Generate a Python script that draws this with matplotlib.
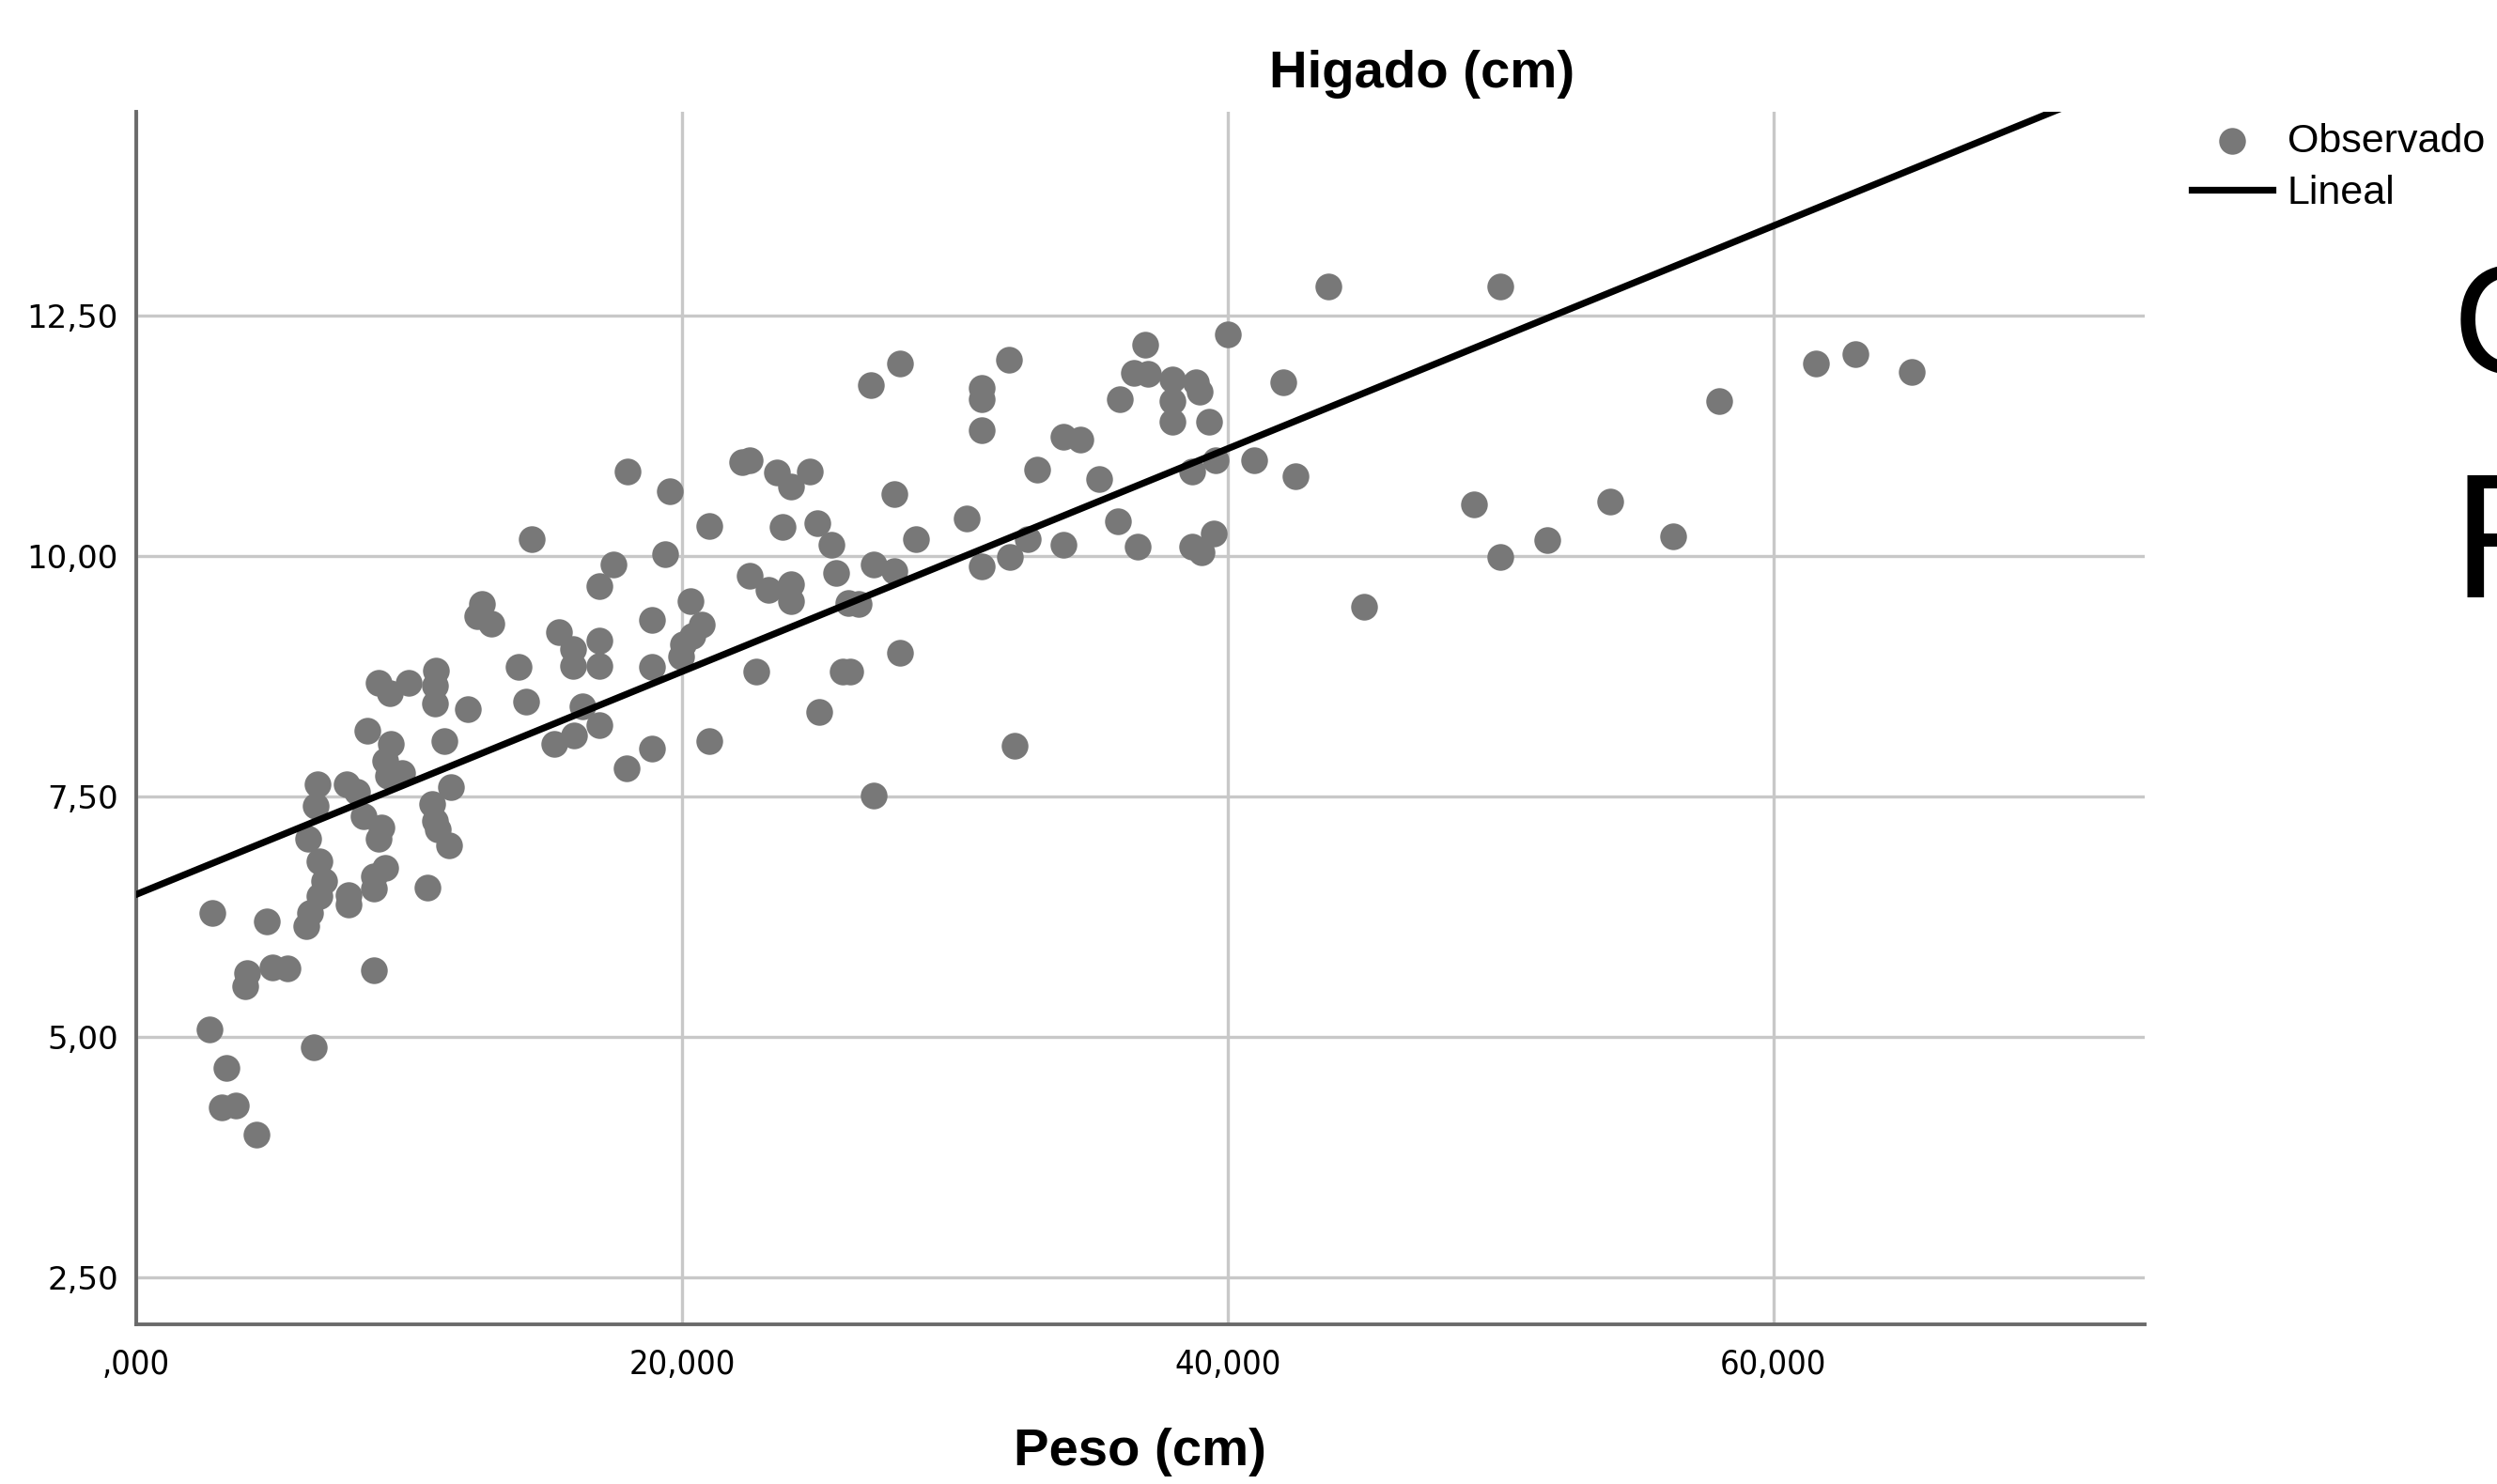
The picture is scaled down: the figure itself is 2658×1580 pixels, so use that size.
import matplotlib
matplotlib.use("Agg")
import matplotlib.pyplot as plt

peso = [
    2.81, 4.79, 6.25, 6.36, 6.71, 6.88, 6.71, 6.30, 6.59, 6.65,
    7.70, 8.10, 8.32, 9.00, 8.89, 9.12, 8.72, 8.72, 7.80, 7.80,
    10.67, 10.84, 10.95, 11.07, 11.53, 11.47, 4.01, 4.06, 4.98, 5.56,
    8.72, 2.69, 6.50, 3.30, 3.15, 3.67, 4.41,
    16.98, 12.68, 12.50, 13.02, 15.49, 16.01, 16.01, 16.98, 16.98,
    18.90, 18.90, 14.00, 14.29, 10.98, 8.89, 9.29, 9.98, 10.95, 10.95,
    12.16, 8.49, 9.35, 9.12, 11.30, 9.75, 9.23, 16.35, 16.06, 15.32,
    16.98, 17.96, 18.90,
    18.02, 19.57, 14.49, 19.39, 17.50, 21.00, 22.21, 22.49, 23.47, 23.99,
    24.68, 23.70, 24.97, 25.48, 25.66, 27.04, 22.49, 23.18, 23.99, 23.99,
    26.11, 26.46, 27.80, 20.31, 20.72, 20.37, 20.03, 19.97, 21.00, 22.72,
    25.89, 26.15, 25.02, 27.04,
    28.00, 31.97, 26.91, 30.99, 30.99, 30.99, 36.55, 37.08, 36.04, 33.98,
    34.60, 33.00, 35.30, 28.58, 30.42, 35.98, 33.98, 36.70, 32.66, 32.03,
    30.99, 27.78, 28.00, 32.20,
    43.68, 40.00, 36.96, 37.99, 38.85, 38.97, 37.99, 37.99, 39.31, 42.02,
    38.69, 39.55, 40.98, 42.47, 38.69, 39.04, 39.49, 45.00,
    50.00, 49.01, 50.00, 51.71, 54.02, 56.31, 58.02, 61.54, 63.01, 65.06,
]
higado = [
    6.29, 6.20, 6.15, 6.29, 6.46, 6.62, 6.83, 7.06, 7.40, 7.63,
    7.63, 7.55, 7.29, 7.18, 7.06, 6.76, 6.67, 6.54, 6.47, 6.38,
    6.55, 7.42, 7.25, 7.16, 7.60, 6.99, 5.53, 5.66, 5.72, 5.71,
    5.69, 5.08, 4.89, 4.68, 4.27, 4.29, 3.98,
    9.69, 9.50, 9.37, 9.30, 9.21, 9.03, 8.86, 9.12, 8.86,
    9.34, 8.85, 8.85, 8.49, 8.81, 8.68, 8.57, 8.68, 8.65, 8.47,
    8.41, 8.18, 8.05, 7.87, 8.08, 7.74, 7.71, 8.44, 8.13, 8.05,
    8.24, 7.79, 8.00,
    10.88, 10.67, 10.18, 10.02, 9.91, 10.31, 10.98, 11.00, 10.87, 10.72,
    10.88, 10.30, 10.34, 10.12, 9.82, 9.91, 9.79, 9.65, 9.71, 9.53,
    9.51, 9.50, 10.64, 9.53, 9.29, 9.17, 9.08, 8.95, 8.08, 8.80,
    8.80, 8.80, 8.38, 7.51,
    12.00, 12.04, 11.78, 11.75, 11.63, 11.31, 11.90, 11.89, 11.63, 11.24,
    11.21, 10.90, 10.80, 10.18, 10.39, 10.36, 10.12, 10.10, 10.18, 9.99,
    9.89, 9.84, 8.99, 8.03,
    12.80, 12.30, 12.20, 11.84, 11.81, 11.71, 11.61, 11.40, 11.40, 11.81,
    10.88, 11.00, 11.00, 10.83, 10.10, 10.04, 10.23, 9.47,
    12.80, 10.54, 9.99, 10.17, 10.57, 10.20, 11.61, 12.00, 12.10, 11.91,
]

# recta "Lineal" (ajuste)
fit_intercept = 6.48
fit_slope = 0.1159

x_ticks = [0, 20, 40, 60]
x_labels = [",000", "20,000", "40,000", "60,000"]
y_ticks = [2.5, 5.0, 7.5, 10.0, 12.5]
y_labels = ["2,50", "5,00", "7,50", "10,00", "12,50"]

x_min, x_max = 0, 73.6
y_min, y_max = 2.01, 14.62

fig = plt.figure(figsize=(26.58, 15.80), dpi=100)
ax = fig.add_axes([0.0545, 0.1076, 0.8044, 0.8171])

ax.grid(True, color="#c8c8c8", linewidth=2.4)
ax.set_axisbelow(True)

pts = ax.scatter(peso, higado, s=420, color="#787878", linewidths=0,
                 zorder=2, label="Observado")
fit, = ax.plot([x_min, x_max],
               [fit_intercept + fit_slope * x_min, fit_intercept + fit_slope * x_max],
               color="black", lw=5.2, zorder=3, label="Lineal")

ax.set_xlim(x_min, x_max)
ax.set_ylim(y_min, y_max)

for side in ["top", "right"]:
    ax.spines[side].set_visible(False)
for side in ["left", "bottom"]:
    ax.spines[side].set_color("#6a6a6a")
    ax.spines[side].set_linewidth(2.8)

ax.set_xticks(x_ticks)
ax.set_xticklabels(x_labels, family="DejaVu Sans", fontstretch="condensed", fontsize=26)
ax.set_yticks(y_ticks)
ax.set_yticklabels(y_labels, family="DejaVu Sans", fontsize=24.5)
ax.tick_params(axis="x", length=0, pad=18.5)
ax.tick_params(axis="y", length=0, pad=13.5)

ax.set_xlabel("Peso (cm)", family="Liberation Sans", fontweight="bold", fontsize=40.5)
ax.xaxis.set_label_coords(0.5, -0.1053)
ax.xaxis.label.set_va("center")

ax.set_title("Higado (cm)", family="Liberation Sans", fontweight="bold", fontsize=40.5,
             x=0.640, y=1.031, pad=0, va="center")

fig.legend(handles=[pts, fit], loc="upper left", bbox_to_anchor=(0.8777, 0.9174),
           frameon=False, prop={"family": "Liberation Sans", "size": 31},
           handlelength=2.0, handletextpad=0.36, labelspacing=0.36,
           borderpad=0, borderaxespad=0)

# letras cortadas en el borde derecho
fig.text(0.982, 0.7487, "C", family="Liberation Sans", fontsize=119, va="baseline")
fig.text(0.982, 0.5975, "R", family="Liberation Sans", fontsize=136, va="baseline")

fig.savefig("out.png", dpi=100)
